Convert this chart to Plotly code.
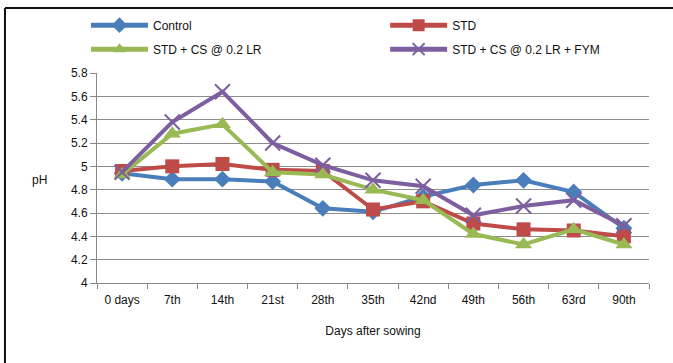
import plotly.graph_objects as go

days = ["0 days", "7th", "14th", "21st", "28th", "35th", "42nd", "49th", "56th", "63rd", "90th"]
control = [4.94, 4.89, 4.89, 4.87, 4.64, 4.61, 4.74, 4.84, 4.88, 4.78, 4.47]
std = [4.96, 5.00, 5.02, 4.97, 4.96, 4.63, 4.70, 4.51, 4.46, 4.45, 4.40]
std_cs = [4.93, 5.28, 5.36, 4.95, 4.93, 4.80, 4.71, 4.42, 4.33, 4.46, 4.33]
std_cs_fym = [4.95, 5.38, 5.64, 5.20, 5.01, 4.88, 4.83, 4.58, 4.66, 4.71, 4.49]

y_ticks = [4, 4.2, 4.4, 4.6, 4.8, 5, 5.2, 5.4, 5.6, 5.8]
y_labels = ["4", "4.2", "4.4", "4.6", "4.8", "5", "5.2", "5.4", "5.6", "5.8"]

# name, values, colour, marker, legend column
series = [
    ("Control", control, "#4A7EBB", dict(symbol="diamond", size=13), "legend"),
    ("STD", std, "#BE4B48", dict(symbol="square", size=14), "legend2"),
    ("STD + CS @ 0.2 LR", std_cs, "#98B954", dict(symbol="triangle-up", size=15), "legend"),
    ("STD + CS @ 0.2 LR + FYM", std_cs_fym, "#7D5FA0", dict(symbol="x-thin", size=15), "legend2"),
]

fig = go.Figure()
for name, vals, color, mk, leg in series:
    marker = dict(color=color, **mk)
    if mk["symbol"] == "x-thin":
        marker["line"] = dict(width=2, color=color)
    fig.add_trace(go.Scatter(
        x=days, y=vals, name=name, mode="lines+markers",
        line=dict(color=color, width=4),
        marker=marker, legend=leg, legendgroup=name,
    ))

font_family = "Liberation Sans Narrow, Liberation Sans, Arial, sans-serif"
legend_common = dict(
    orientation="v", yanchor="top", itemwidth=57, tracegroupgap=5,
    font=dict(family=font_family, size=12, color="#111"),
    bgcolor="rgba(0,0,0,0)", itemsizing="constant",
)

fig.update_layout(
    width=673, height=363,
    margin=dict(l=97, r=24, t=73, b=80, autoexpand=False),
    paper_bgcolor="white", plot_bgcolor="white",
    font=dict(family=font_family, size=11, color="#111"),
    showlegend=True,
    legend=dict(x=-0.02, y=1.297, xanchor="left", **legend_common),
    legend2=dict(x=0.522, y=1.297, xanchor="left", **legend_common),
    xaxis=dict(
        type="category", tickson="boundaries", ticks="outside", ticklen=5,
        tickcolor="#888", showline=True, linecolor="#888", linewidth=1,
        showgrid=False, range=[-0.5, 10.5], ticklabelstandoff=6,
        title=dict(text="Days after sowing", standoff=20,
                   font=dict(family=font_family, size=12)),
        tickfont=dict(family=font_family, size=12),
    ),
    yaxis=dict(
        range=[4, 5.8], tickvals=y_ticks, ticktext=y_labels,
        ticks="outside", ticklen=6, tickcolor="#888",
        showline=True, linecolor="#888", linewidth=1,
        showgrid=True, gridcolor="#8c8c8c", gridwidth=1,
        zeroline=False,
        tickfont=dict(family=font_family, size=12),
    ),
    annotations=[
        dict(text="pH", xref="paper", yref="paper", x=-0.105, y=0.49,
             showarrow=False, xanchor="center", yanchor="middle",
             font=dict(family=font_family, size=12, color="#111")),
    ],
    shapes=[
        dict(type="line", xref="paper", yref="paper",
             x0=-0.1667, x1=1.1, y0=1.3095, y1=1.3095,
             line=dict(color="#111", width=2)),
        dict(type="line", xref="paper", yref="paper",
             x0=-0.1667, x1=-0.1667, y0=1.3095, y1=-0.45,
             line=dict(color="#111", width=2)),
    ],
)

fig.write_html("out.html")
